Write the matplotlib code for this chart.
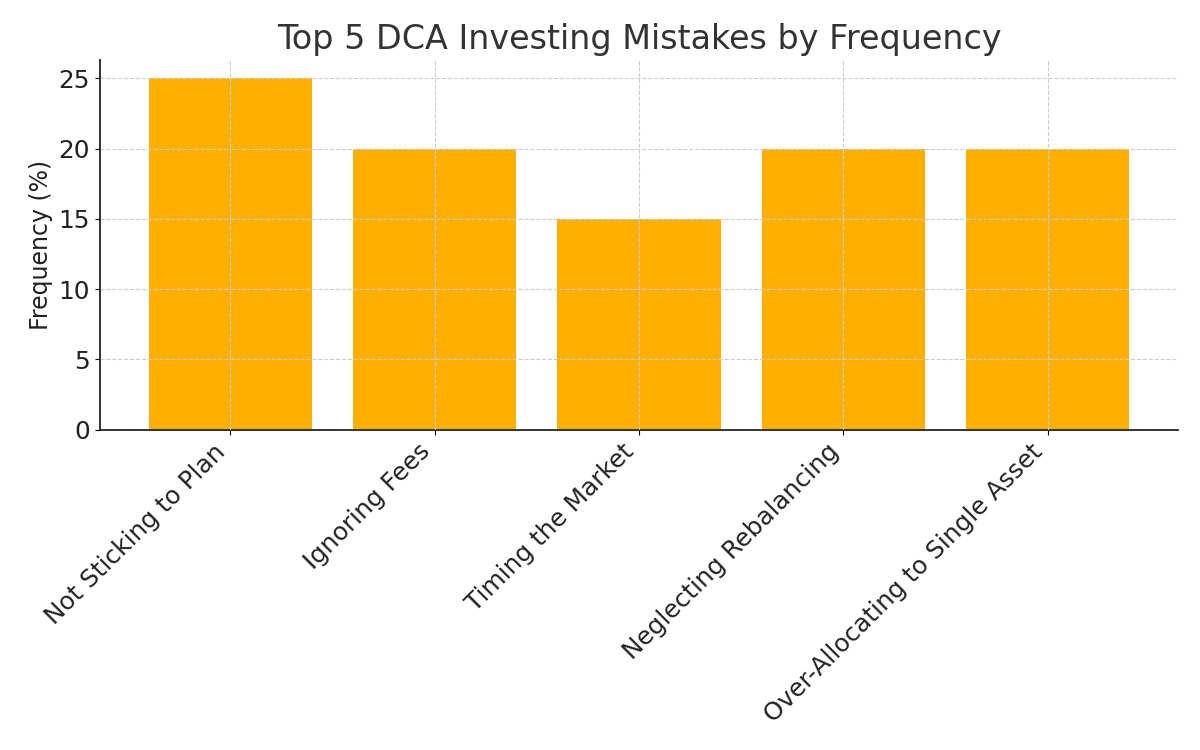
import matplotlib
matplotlib.use("Agg")
import matplotlib.pyplot as plt

categories = ["Not Sticking to Plan", "Ignoring Fees", "Timing the Market",
              "Neglecting Rebalancing", "Over-Allocating to Single Asset"]
values = [25, 20, 15, 20, 20]

fig = plt.figure(figsize=(12, 7.5), dpi=100)
ax = fig.add_axes([0.083, 0.427, 0.899, 0.493])
x = list(range(len(categories)))
ax.bar(x, values, width=0.8, color="#FFAF00", zorder=2)
ax.set_xticks(x)
ax.set_xticklabels(categories, rotation=45, ha="right",
                   fontsize=17.8, color="#222222")
ax.tick_params(axis="y", labelsize=17.8, labelcolor="#222222")
ax.set_xlim(-0.64, 4.64)
ax.set_ylim(0, 26.3)
ax.set_yticks([0, 5, 10, 15, 20, 25])
ax.set_ylabel("Frequency (%)", fontsize=17, color="#222222")
ax.set_title("Top 5 DCA Investing Mistakes by Frequency", fontsize=24, color="#333333", pad=8)
ax.grid(True, linestyle="--", color="#cccccc", linewidth=0.8, zorder=0)
ax.set_axisbelow(False)
for s in ["top", "right"]:
    ax.spines[s].set_visible(False)
for s in ["left", "bottom"]:
    ax.spines[s].set_linewidth(1.3)
    ax.spines[s].set_color("#222222")
fig.savefig("out.png", dpi=100)
